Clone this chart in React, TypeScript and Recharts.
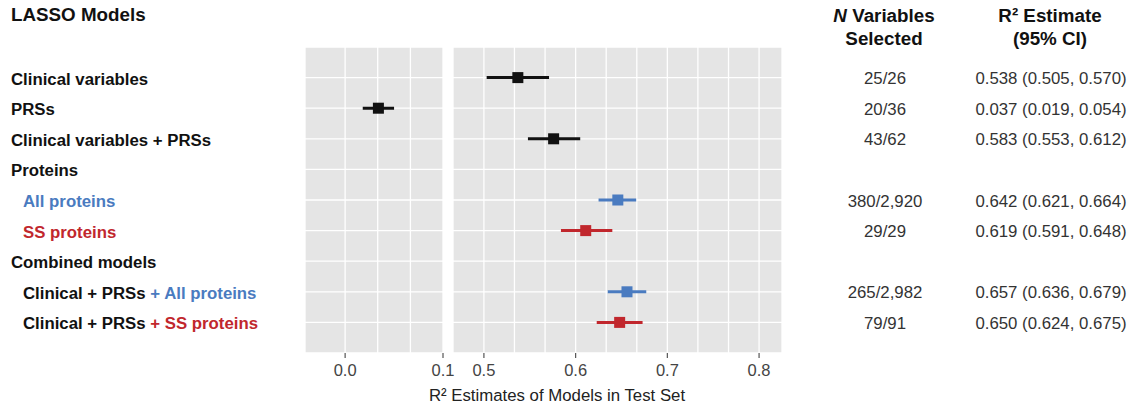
import { ScatterChart, Scatter, XAxis, YAxis, CartesianGrid, ErrorBar } from 'recharts';

const BLACK = '#111111';
const BLUE = '#4a7bc0';
const RED = '#c1272d';

// one entry per row, top to bottom
const rowIds = [1, 2, 3, 4, 5, 6, 7, 8, 9];
const rowIndent = [false, false, false, false, true, true, false, true, true];
const rowLabelParts = [
  [{ t: 'Clinical variables', c: BLACK }],
  [{ t: 'PRSs', c: BLACK }],
  [{ t: 'Clinical variables + PRSs', c: BLACK }],
  [{ t: 'Proteins', c: BLACK }],
  [{ t: 'All proteins', c: BLUE }],
  [{ t: 'SS proteins', c: RED }],
  [{ t: 'Combined models', c: BLACK }],
  [{ t: 'Clinical + PRSs ', c: BLACK }, { t: '+ All proteins', c: BLUE }],
  [{ t: 'Clinical + PRSs ', c: BLACK }, { t: '+ SS proteins', c: RED }],
];
const rowColor = [BLACK, BLACK, BLACK, null, BLUE, RED, null, BLUE, RED];
const estimates = [0.537, 0.034, 0.576, null, 0.646, 0.611, null, 0.656, 0.648];
const lowerCI = [0.503, 0.018, 0.548, null, 0.625, 0.584, null, 0.635, 0.623];
const upperCI = [0.571, 0.05, 0.605, null, 0.666, 0.64, null, 0.677, 0.673];
const nSelected = ['25/26', '20/36', '43/62', '', '380/2,920', '29/29', '', '265/2,982', '79/91'];
const r2Text = [
  '0.538 (0.505, 0.570)',
  '0.037 (0.019, 0.054)',
  '0.583 (0.553, 0.612)',
  '',
  '0.642 (0.621, 0.664)',
  '0.619 (0.591, 0.648)',
  '',
  '0.657 (0.636, 0.679)',
  '0.650 (0.624, 0.675)',
];

const leftDomain = [-0.041, 0.1];
const rightDomain = [0.4663, 0.825];
const leftTicks = [0, 0.0333, 0.0667, 0.1];
const rightTicks = [0.5, 0.5333, 0.5667, 0.6, 0.6333, 0.6667, 0.7, 0.7333, 0.7667, 0.8];
const majorTicks = [0, 0.1, 0.5, 0.6, 0.7, 0.8];

const FONT = '"Liberation Sans", Arial, sans-serif';

const points = rowIds
  .map((id, i) => ({
    y: id,
    x: estimates[i],
    err: estimates[i] == null ? [0, 0] : [estimates[i]! - lowerCI[i]!, upperCI[i]! - estimates[i]!],
    color: rowColor[i],
  }))
  .filter((d) => d.x != null);

const leftPoints = points.filter((d) => (d.x as number) <= 0.1);
const rightPoints = points.filter((d) => (d.x as number) > 0.1);

const XTick = (props: any) => {
  const { x, payload } = props;
  const v = payload.value;
  if (!majorTicks.some((m) => Math.abs(m - v) < 1e-6)) return null;
  return (
    <g>
      <line x1={x} x2={x} y1={353} y2={358} stroke="#555" strokeWidth={1.2} />
      <text x={x} y={370} textAnchor="middle" dominantBaseline="central" fontSize={16.5} fill="#444" fontFamily={FONT}>
        {v.toFixed(1)}
      </text>
    </g>
  );
};

const LabelTick = (props: any) => {
  const { y, payload } = props;
  const i = payload.value - 1;
  const parts = rowLabelParts[i];
  if (!parts) return null;
  return (
    <text x={rowIndent[i] ? 23 : 11} y={y + 1} dominantBaseline="central" fontSize={16.8} fontWeight="bold" fontFamily={FONT}>
      {parts.map((p, k) => (
        <tspan key={k} fill={p.c}>
          {p.t}
        </tspan>
      ))}
    </text>
  );
};

const TableTick = (props: any) => {
  const { y, payload } = props;
  const i = payload.value - 1;
  return (
    <g fontFamily={FONT} fontSize={16.8} fill="#333">
      <text x={885} y={y + 1} textAnchor="middle" dominantBaseline="central">
        {nSelected[i]}
      </text>
      <text x={1051} y={y + 1} textAnchor="middle" dominantBaseline="central">
        {r2Text[i]}
      </text>
    </g>
  );
};

const square = (props: any) => {
  const { cx, cy, payload } = props;
  return <rect x={cx - 5.5} y={cy - 5.5} width={11} height={11} fill={payload.color} />;
};

const groups = [BLACK, BLUE, RED];

const renderSeries = (data: any[], prefix: string) =>
  groups.map((c) => {
    const d = data.filter((p) => p.color === c);
    if (!d.length) return null;
    return (
      <Scatter key={prefix + c} data={d} shape={square} isAnimationActive={false}>
        <ErrorBar dataKey="err" direction="x" width={0} stroke={c} strokeWidth={3} />
      </Scatter>
    );
  });

export default function App() {
  return (
    <div style={{ position: 'absolute', left: 0, top: 0, width: 1132, height: 407, background: '#fff', fontFamily: FONT }}>
      <div style={{ position: 'absolute', left: 0, top: 0 }}>
        <ScatterChart width={1132} height={407} margin={{ top: 47, right: 689, bottom: 0, left: 0 }}>
          <CartesianGrid fill="#e5e5e5" stroke="#ffffff" strokeWidth={1.3} />
          <XAxis
            type="number"
            dataKey="x"
            domain={leftDomain}
            ticks={leftTicks}
            interval={0}
            height={54}
            tickLine={false}
            axisLine={false}
            tick={<XTick />}
            allowDataOverflow
          />
          <YAxis
            type="number"
            dataKey="y"
            domain={[0, 10]}
            ticks={rowIds}
            interval={0}
            reversed
            width={305}
            tickLine={false}
            axisLine={false}
            tick={<LabelTick />}
            allowDataOverflow
          />
          {renderSeries(leftPoints, 'l')}
        </ScatterChart>
      </div>
      <div style={{ position: 'absolute', left: 0, top: 0 }}>
        <ScatterChart width={1132} height={407} margin={{ top: 47, right: 0, bottom: 0, left: 453 }}>
          <CartesianGrid fill="#e5e5e5" stroke="#ffffff" strokeWidth={1.3} />
          <XAxis
            type="number"
            dataKey="x"
            domain={rightDomain}
            ticks={rightTicks}
            interval={0}
            height={54}
            tickLine={false}
            axisLine={false}
            tick={<XTick />}
            allowDataOverflow
          />
          <YAxis
            type="number"
            dataKey="y"
            orientation="right"
            domain={[0, 10]}
            ticks={rowIds}
            interval={0}
            reversed
            width={350}
            tickLine={false}
            axisLine={false}
            tick={<TableTick />}
            allowDataOverflow
          />
          {renderSeries(rightPoints, 'r')}
        </ScatterChart>
      </div>
      <div style={{ position: 'absolute', left: 11, top: 4, fontSize: 18.8, lineHeight: '22px', fontWeight: 'bold', color: BLACK }}>
        LASSO Models
      </div>
      <div style={{ position: 'absolute', left: 784, width: 200, top: 4, fontSize: 18.8, lineHeight: '23px', fontWeight: 'bold', color: BLACK, textAlign: 'center' }}>
        <i>N</i> Variables
        <br />
        Selected
      </div>
      <div style={{ position: 'absolute', left: 950, width: 200, top: 4, fontSize: 18.8, lineHeight: '23px', fontWeight: 'bold', color: BLACK, textAlign: 'center' }}>
        R² Estimate
        <br />
        (95% CI)
      </div>
      <div style={{ position: 'absolute', left: 357, width: 400, top: 385, fontSize: 16.8, lineHeight: '22px', color: '#222', textAlign: 'center' }}>
        R² Estimates of Models in Test Set
      </div>
    </div>
  );
}
